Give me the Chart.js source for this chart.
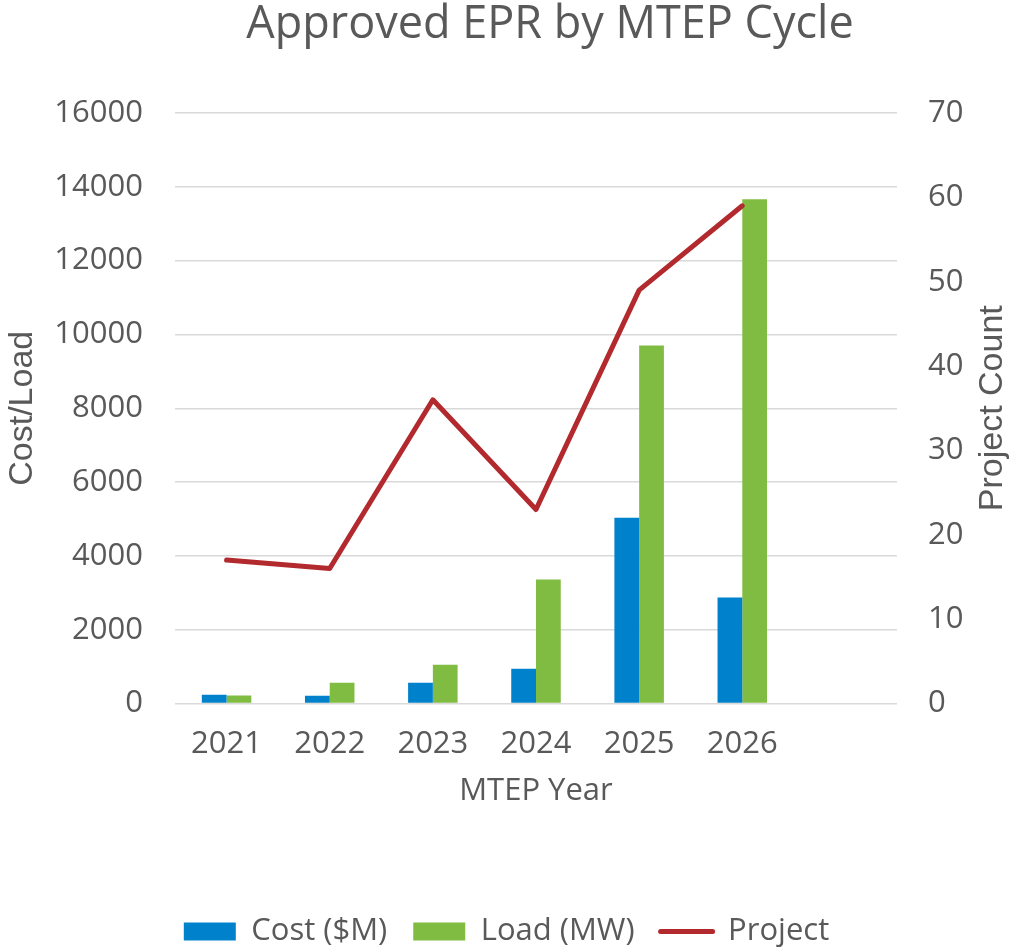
<!DOCTYPE html>
<html>
<head>
<meta charset="utf-8">
<script src="https://cdn.jsdelivr.net/npm/chart.js@4.4.1/dist/chart.umd.min.js"></script>
<style>
html,body{margin:0;padding:0;background:#fff;}
#wrap{width:1013px;height:947px;position:relative;}
</style>
</head>
<body>
<div id="wrap"><canvas id="c" width="1013" height="947"></canvas></div>
<script>
const categories = ['2021','2022','2023','2024','2025','2026',''];
const costValues = [240, 210, 560, 940, 5030, 2870];
const loadValues = [220, 560, 1050, 3360, 9700, 13660];
const projectCounts = [17, 16, 36, 23, 49, 59];
const leftTicks = {min:0, max:16000, step:2000};
const rightTicks = {min:0, max:70, step:10};

const textColor = '#595959';
const baseFont = 'Open Sans';
const tickFont = {family:baseFont, size:31};

const extraText = {
  id:'extraText',
  afterDraw(chart){
    const ctx = chart.ctx;
    ctx.save();
    ctx.fillStyle = textColor;
    ctx.textAlign = 'center';
    ctx.textBaseline = 'middle';
    ctx.font = '45px "' + baseFont + '"';
    ctx.fillText('Approved EPR by MTEP Cycle', 550, 25);
    const a = chart.chartArea;
    ctx.translate(993, (a.top + a.bottom) / 2);
    ctx.rotate(-Math.PI / 2);
    ctx.font = '34px "Liberation Sans"';
    ctx.fillText('Project Count', 0, 0);
    ctx.restore();
  }
};

new Chart(document.getElementById('c'), {
  data:{
    labels:categories,
    datasets:[
      {type:'line', label:'Project', data:projectCounts, yAxisID:'y1', borderColor:'#B22A2E', backgroundColor:'#B22A2E',
        borderWidth:5, pointRadius:0, borderCapStyle:'round', borderJoinStyle:'round', tension:0, order:0, pointStyle:'line'},
      {type:'bar', label:'Cost ($M)', data:costValues, yAxisID:'y', backgroundColor:'#0081CB', borderWidth:0, order:1, pointStyle:'rect'},
      {type:'bar', label:'Load (MW)', data:loadValues, yAxisID:'y', backgroundColor:'#80BC42', borderWidth:0, order:2, pointStyle:'rect'}
    ]
  },
  options:{
    responsive:false,
    animation:false,
    layout:{padding:{top:113, bottom:-10, left:0, right:0}},
    datasets:{bar:{categoryPercentage:0.48, barPercentage:1.0}},
    plugins:{
      title:{display:false},
      tooltip:{enabled:false},
      legend:{
        position:'bottom',
        labels:{
          usePointStyle:true, pointStyleWidth:52, boxHeight:18,
          font:{family:baseFont, size:31}, color:textColor, padding:26,
          sort:(a,b)=>{const o={'Cost ($M)':0,'Load (MW)':1,'Project':2};return o[a.text]-o[b.text];},
          generateLabels(chart){
            const items = Chart.defaults.plugins.legend.labels.generateLabels(chart);
            items.forEach(it=>{ if(it.text==='Project'){it.lineWidth=5; it.lineCap='round'; it.strokeStyle='#B22A2E';} else {it.lineWidth=0;} });
            return items;
          }
        }
      }
    },
    scales:{
      x:{
        grid:{display:false, drawTicks:false}, border:{display:false},
        ticks:{font:tickFont, color:textColor, padding:22, maxRotation:0, autoSkip:false},
        title:{display:true, text:'MTEP Year', font:{family:baseFont, size:31}, color:textColor, padding:{top:0, bottom:80}},
        afterFit(s){ s.height = 186.5; }
      },
      y:{
        position:'left', min:leftTicks.min, max:leftTicks.max,
        grid:{color:'#D9D9D9', lineWidth:1.5, drawTicks:false}, border:{display:false},
        ticks:{stepSize:leftTicks.step, font:tickFont, color:textColor, padding:32, callback:(v)=>String(v)},
        title:{display:true, text:'Cost/Load', font:{family:'Liberation Sans', size:34}, color:textColor, padding:{top:2,bottom:0}},
        afterFit(s){ s.width = 175; }
      },
      y1:{
        position:'right', min:rightTicks.min, max:rightTicks.max,
        grid:{display:false, drawTicks:false}, border:{display:false},
        ticks:{stepSize:rightTicks.step, font:tickFont, color:textColor, padding:31, callback:(v)=>String(v)},
        title:{display:false},
        afterFit(s){ s.width = 116; }
      }
    }
  },
  plugins:[extraText]
});
</script>
</body>
</html>
